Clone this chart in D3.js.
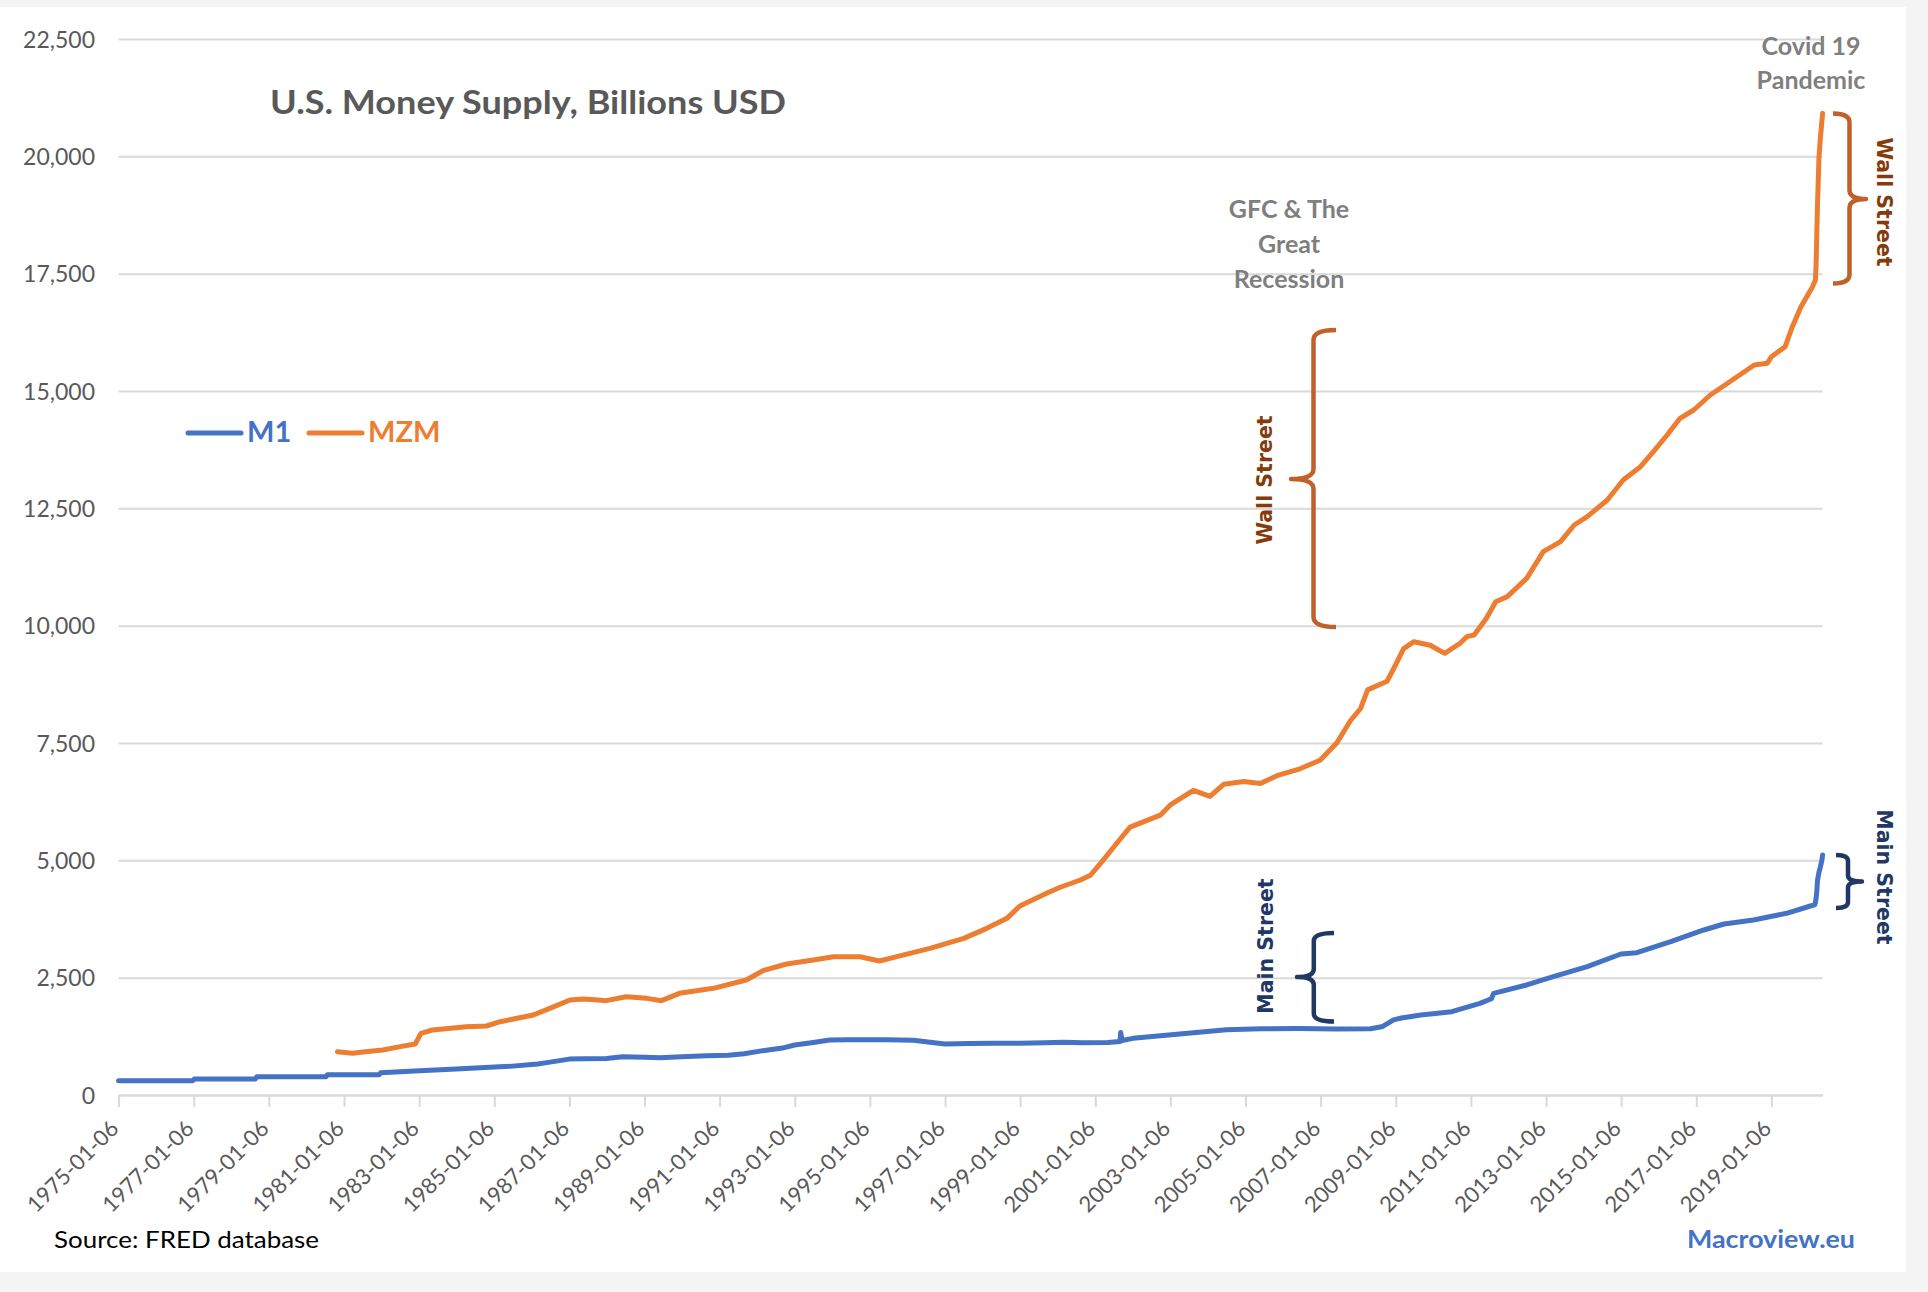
<!DOCTYPE html>
<html><head><meta charset="utf-8">
<script src="https://cdn.jsdelivr.net/npm/d3@7"></script>
<style>
html,body{margin:0;padding:0;background:#f4f4f4;}
svg{display:block;}
</style></head><body>
<svg id="chart" width="1928" height="1292"></svg>
<script>
// ---------- DATA ----------
const seriesNames = ["M1", "MZM"];
const seriesColors = ["#4472c4", "#ed7d31"];

const m1Series = [
 ["1975-01-06",305],["1976-12-27",305],["1977-01-10",340],["1978-08-28",340],["1978-09-11",390],
 ["1980-07-14",390],["1980-07-28",433],["1981-12-14",433],["1981-12-28",476],["1983-01-10",518],
 ["1984-01-02",554],["1985-02-25",600],["1985-06-03",610],["1986-03-03",660],["1986-06-02",690],
 ["1987-01-05",765],["1987-06-01",770],["1988-01-04",780],["1988-06-06",815],["1989-01-02",805],
 ["1989-06-05",795],["1990-01-01",815],["1990-09-03",838],["1991-04-01",845],["1991-09-02",880],
 ["1992-03-02",945],["1992-09-07",1000],["1993-01-04",1065],["1993-07-05",1120],["1993-12-13",1172],
 ["1994-06-06",1175],["1995-06-05",1175],["1996-03-04",1165],["1996-09-02",1120],["1997-01-06",1087],
 ["1997-09-01",1095],["1998-05-04",1101],["1999-01-04",1105],["1999-09-06",1115],["2000-03-06",1122],
 ["2000-09-04",1115],["2001-05-07",1120],["2001-09-03",1140],["2001-09-10",1330],["2001-09-24",1160],
 ["2002-01-07",1207],["2003-03-10",1295],["2004-07-05",1390],["2005-06-06",1410],["2006-06-05",1415],
 ["2007-06-04",1405],["2008-05-05",1410],["2008-09-01",1460],["2008-12-15",1600],["2009-03-02",1640],
 ["2009-09-07",1705],["2010-07-05",1776],["2011-04-04",1953],["2011-07-25",2050],["2011-08-15",2166],
 ["2012-07-02",2344],["2013-03-18",2521],["2014-02-10",2734],["2015-01-05",3004],["2015-06-08",3033],
 ["2016-05-02",3267],["2017-03-20",3516],["2017-10-02",3643],["2018-07-16",3729],["2019-06-03",3871],
 ["2020-01-20",4027],["2020-03-02",4050],["2020-03-09",4100],["2020-03-16",4200],["2020-03-23",4350],
 ["2020-03-30",4581],["2020-04-13",4750],["2020-04-27",4865],["2020-05-11",5000],["2020-05-18",5114]
];

const mzmSeries = [
 ["1980-11-03",923],["1981-03-30",888],["1981-08-03",923],["1982-01-18",959],["1982-07-05",1030],
 ["1982-11-29",1087],["1983-01-24",1314],["1983-05-16",1385],["1984-04-09",1456],["1984-10-22",1470],
 ["1985-03-04",1562],["1986-01-20",1705],["1986-06-30",1847],["1987-01-12",2024],["1987-05-18",2045],
 ["1987-10-12",2024],["1987-12-28",2010],["1988-07-11",2095],["1989-01-30",2059],["1989-06-19",2010],
 ["1989-12-11",2166],["1990-11-05",2273],["1991-09-23",2450],["1992-03-02",2649],["1992-10-19",2791],
 ["1993-07-05",2876],["1994-01-17",2947],["1994-10-03",2947],["1995-04-10",2855],["1995-09-25",2947],
 ["1996-08-12",3125],["1997-07-07",3338],["1998-02-16",3551],["1998-08-31",3764],["1999-01-04",4027],
 ["1999-09-20",4297],["2000-01-31",4426],["2000-08-14",4581],["2000-11-20",4682],["2001-03-26",5011],
 ["2001-09-03",5450],["2001-12-10",5706],["2002-09-30",5962],["2003-01-06",6181],["2003-08-18",6489],
 ["2004-01-26",6364],["2004-06-07",6620],["2004-12-20",6679],["2005-05-30",6635],["2005-11-07",6803],
 ["2006-06-19",6950],["2007-01-01",7132],["2007-06-11",7498],["2007-10-22",7974],["2008-01-28",8230],
 ["2008-04-07",8632],["2008-10-13",8815],["2008-12-22",9108],["2009-03-23",9510],["2009-06-29",9656],
 ["2009-12-07",9583],["2010-04-26",9411],["2010-09-20",9620],["2010-11-29",9766],["2011-02-07",9801],
 ["2011-06-06",10157],["2011-09-05",10511],["2011-12-26",10618],["2012-07-02",11009],["2012-12-10",11577],
 ["2013-05-27",11790],["2013-10-07",12145],["2014-02-10",12322],["2014-08-25",12678],["2015-01-26",13104],
 ["2015-07-13",13388],["2015-11-16",13707],["2016-03-28",14062],["2016-08-01",14418],["2016-12-12",14595],
 ["2017-05-22",14915],["2017-11-06",15164],["2018-05-14",15448],["2018-07-23",15554],["2018-11-26",15590],
 ["2019-01-07",15732],["2019-05-20",15945],["2019-07-29",16370],["2019-10-21",16796],["2020-02-10",17222],
 ["2020-03-09",17364],["2020-03-16",17700],["2020-03-23",18400],["2020-03-30",19000],["2020-04-06",19500],
 ["2020-04-13",19993],["2020-04-27",20400],["2020-05-11",20750],["2020-05-18",20917]
];

const yTickValues = [0,2500,5000,7500,10000,12500,15000,17500,20000,22500];
const xTickLabels = ["1975-01-06","1977-01-06","1979-01-06","1981-01-06","1983-01-06","1985-01-06",
 "1987-01-06","1989-01-06","1991-01-06","1993-01-06","1995-01-06","1997-01-06","1999-01-06",
 "2001-01-06","2003-01-06","2005-01-06","2007-01-06","2009-01-06","2011-01-06","2013-01-06",
 "2015-01-06","2017-01-06","2019-01-06"];
const xDomain = ["1975-01-06","2020-05-18"];

const titleText = "U.S. Money Supply, Billions USD";
const sourceText = "Source: FRED database";
const brandText = "Macroview.eu";

// ---------- DRAW ----------
const svg = d3.select("#chart");
svg.append("rect").attr("x",0).attr("y",7).attr("width",1906).attr("height",1265).attr("fill","#ffffff");

const parse = d3.timeParse("%Y-%m-%d");
const fmt = d3.timeFormat("%Y-%m-%d");
const L = 118.6, R = 1822.6, B = 1095, T = 39;
const x = d3.scaleTime().domain(xDomain.map(parse)).range([L, R]);
const y = d3.scaleLinear().domain([0, 22500]).range([B, T]);

const FONT = "Lato, 'Open Sans', sans-serif";

// y axis with gridlines
const yAxis = d3.axisLeft(y).tickValues(yTickValues).tickSize(-(R - L)).tickPadding(23)
  .tickFormat(d3.format(","));
const gy = svg.append("g").attr("transform", `translate(${L},0)`).call(yAxis);
gy.select(".domain").remove();
gy.selectAll(".tick line").attr("stroke", "#d9d9d9").attr("stroke-width", 2);
gy.selectAll(".tick text").attr("fill", "#595959").style("font-family", FONT)
  .style("font-size", "23px").attr("x", -(L - 95)).attr("dy", "0.35em");

// x axis
const xAxis = d3.axisBottom(x).tickValues(xTickLabels.map(parse)).tickSize(12).tickSizeOuter(0)
  .tickFormat(fmt);
const gx = svg.append("g").attr("transform", `translate(0,${B})`).call(xAxis);
gx.select(".domain").attr("stroke", "#d9d9d9").attr("stroke-width", 2);
gx.selectAll(".tick line").attr("stroke", "#d9d9d9").attr("stroke-width", 2);
gx.selectAll(".tick text").attr("fill", "#595959").style("font-family", FONT).style("font-size", "22px")
  .attr("x", 0).attr("y", 0).attr("dy", 0).attr("text-anchor", "end")
  .attr("transform", "translate(1,35) rotate(-45)");

// lines
const line = d3.line().x(d => x(parse(d[0]))).y(d => y(d[1]));
[m1Series, mzmSeries].forEach((s, i) => {
  svg.append("path").datum(s).attr("d", line).attr("fill", "none")
    .attr("stroke", seriesColors[i]).attr("stroke-width", 5)
    .attr("stroke-linejoin", "round").attr("stroke-linecap", "round");
});

// title
svg.append("text").attr("x", 270).attr("y", 114).text(titleText)
  .style("font-family", FONT).style("font-weight", 700).style("font-size", "33px")
  .attr("fill", "#595959").attr("textLength", 516).attr("lengthAdjust", "spacingAndGlyphs");

// legend
const legendX = [188, 309];
seriesNames.forEach((n, i) => {
  svg.append("line").attr("x1", legendX[i]).attr("x2", legendX[i] + 53).attr("y1", 433).attr("y2", 433)
    .attr("stroke", seriesColors[i]).attr("stroke-width", 5).attr("stroke-linecap", "round");
  svg.append("text").attr("x", legendX[i] + 59).attr("y", 442).text(n)
    .style("font-family", FONT).style("font-weight", 700).style("font-size", "29px")
    .attr("fill", seriesColors[i]);
});

// footer
svg.append("text").attr("x", 54).attr("y", 1248).text(sourceText)
  .style("font-family", FONT).style("font-size", "24px").attr("fill", "#000")
  .attr("textLength", 265).attr("lengthAdjust", "spacingAndGlyphs");
svg.append("text").attr("x", 1855).attr("y", 1248).attr("text-anchor", "end").text(brandText)
  .style("font-family", FONT).style("font-weight", 700).style("font-size", "25px").attr("fill", "#4472c4")
  .attr("textLength", 168).attr("lengthAdjust", "spacingAndGlyphs");

// grey event annotations
function multi(lines, cx, baselines, size) {
  lines.forEach((t, i) => {
    svg.append("text").attr("x", cx).attr("y", baselines[i]).attr("text-anchor", "middle").text(t)
      .style("font-family", FONT).style("font-weight", 700).style("font-size", size + "px")
      .attr("fill", "#7f7f7f");
  });
}
multi(["Covid 19", "Pandemic"], 1811, [55, 89], 25);
multi(["GFC & The", "Great", "Recession"], 1289, [218, 253, 288], 25);

// braces
function brace(x0, yt, yb, xh, ym, xt, r, color) {
  const d = `M${xh},${yt} Q${x0},${yt} ${x0},${yt + r} L${x0},${ym - r} Q${x0},${ym} ${xt},${ym} ` +
            `Q${x0},${ym} ${x0},${ym + r} L${x0},${yb - r} Q${x0},${yb} ${xh},${yb}`;
  svg.append("path").attr("d", d).attr("fill", "none").attr("stroke", color).attr("stroke-width", 4.5)
    .attr("stroke-linejoin", "round");
}
const wallBrace = "#c0602a", wallText = "#843c0c", mainColor = "#1f3864";
brace(1313.5, 330, 627, 1336, 479, 1291, 10, wallBrace);
brace(1313.8, 933, 1021.5, 1334, 977, 1297, 8, mainColor);
brace(1849.5, 113.5, 283.5, 1833, 199, 1866, 9, wallBrace);
brace(1848, 855, 908, 1836, 881.5, 1862, 6, mainColor);

function vtext(t, cx, cy, angle, color) {
  svg.append("text").attr("transform", `translate(${cx},${cy}) rotate(${angle})`)
    .attr("text-anchor", "middle").attr("dy", "0.35em").text(t)
    .style("font-family", "'DejaVu Sans', Verdana, sans-serif").style("font-weight", 700)
    .style("font-size", "20.5px").attr("fill", color);
}
vtext("Wall Street", 1265, 480, -90, wallText);
vtext("Main Street", 1266, 946, -90, mainColor);
vtext("Wall Street", 1884, 202, 90, wallText);
vtext("Main Street", 1884, 877, 90, mainColor);
</script>
</body></html>
